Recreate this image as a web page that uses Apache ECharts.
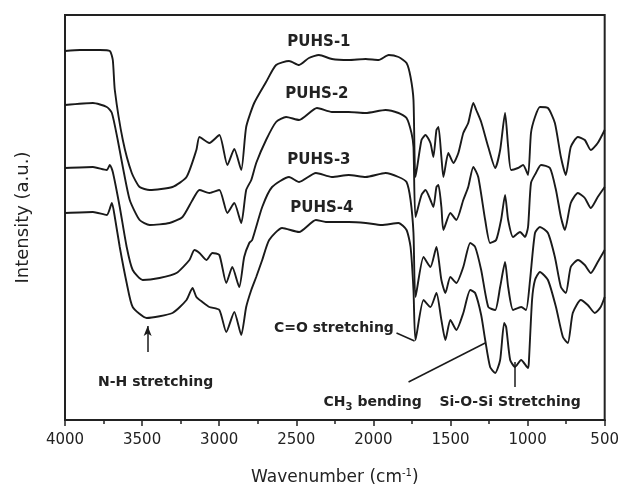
<!DOCTYPE html>
<html>
<head>
<meta charset="utf-8">
<script src="https://cdn.jsdelivr.net/npm/echarts@6/dist/echarts.min.js"></script>
<style>
  html, body { margin: 0; padding: 0; background: #fff; }
  #main { width: 622px; height: 493px; }
</style>
</head>
<body>
<div id="main"></div>
<script>
// FTIR spectra, [wavenumber (cm-1), intensity (a.u.)]
var puhs1 = [[4000,369],[3903,370],[3774,370],[3709,369],[3690,360],[3677,330],[3625,280],[3567,247],[3516,233],[3451,230],[3303,233],[3212,243],[3148,270],[3128,283],[3064,277],[2999,285],[2947,255],[2902,271],[2857,250],[2825,293],[2773,317],[2696,338],[2631,355],[2547,359],[2482,355],[2418,362],[2353,365],[2269,361],[2160,360],[2050,361],[1966,360],[1901,365],[1837,363],[1785,357],[1759,343],[1740,320],[1727,243],[1688,280],[1662,285],[1630,277],[1611,263],[1591,290],[1578,293],[1559,263],[1546,243],[1514,267],[1481,257],[1449,267],[1417,287],[1385,297],[1352,317],[1333,310],[1301,298],[1255,273],[1210,252],[1178,270],[1146,307],[1126,273],[1107,250],[1062,252],[1029,255],[997,245],[978,287],[952,303],[920,313],[868,312],[823,297],[784,263],[752,245],[720,273],[674,283],[629,280],[590,270],[545,277],[500,290]];
var puhs2 = [[4000,315],[3819,317],[3729,313],[3696,307],[3658,280],[3625,253],[3580,220],[3516,200],[3451,195],[3322,197],[3238,203],[3173,220],[3128,230],[3064,227],[2999,230],[2947,207],[2902,217],[2857,197],[2825,230],[2792,240],[2760,257],[2696,280],[2631,298],[2566,303],[2482,300],[2366,312],[2269,308],[2160,308],[2050,307],[1921,310],[1837,307],[1785,302],[1753,287],[1740,273],[1727,203],[1688,225],[1662,230],[1630,220],[1611,213],[1591,233],[1578,235],[1559,213],[1546,190],[1501,207],[1462,200],[1417,220],[1385,233],[1352,253],[1320,243],[1275,200],[1243,177],[1204,180],[1172,200],[1146,225],[1126,200],[1094,183],[1049,188],[1017,183],[997,193],[978,237],[946,247],[913,255],[855,252],[816,230],[784,203],[758,190],[720,217],[674,227],[629,222],[590,212],[545,223],[500,233]];
var puhs3 = [[4000,252],[3819,253],[3729,250],[3709,255],[3690,248],[3645,213],[3600,173],[3561,150],[3496,140],[3387,142],[3277,147],[3193,160],[3161,170],[3128,167],[3083,160],[3044,167],[2999,165],[2954,137],[2915,153],[2870,133],[2838,163],[2805,177],[2786,180],[2721,213],[2657,233],[2547,243],[2482,238],[2373,247],[2269,243],[2160,245],[2050,243],[1921,247],[1837,243],[1785,238],[1759,220],[1740,187],[1727,123],[1675,163],[1630,153],[1591,173],[1559,140],[1533,127],[1501,143],[1462,137],[1417,153],[1372,177],[1340,173],[1301,150],[1255,113],[1210,110],[1178,133],[1146,158],[1126,133],[1094,110],[1042,113],[1010,110],[984,140],[952,187],[920,193],[868,187],[823,163],[784,133],[752,127],[720,153],[674,160],[629,155],[590,147],[545,158],[500,170]];
var puhs4 = [[4000,207],[3819,208],[3729,205],[3696,217],[3677,203],[3645,173],[3600,137],[3561,113],[3470,102],[3303,107],[3212,120],[3173,132],[3148,123],[3109,118],[3064,113],[2999,110],[2954,88],[2902,108],[2857,85],[2825,113],[2792,130],[2760,143],[2721,160],[2676,180],[2592,192],[2482,188],[2373,200],[2308,198],[2160,198],[2050,197],[1947,195],[1837,197],[1785,190],[1759,173],[1740,130],[1727,80],[1675,120],[1630,113],[1591,127],[1559,100],[1533,80],[1501,100],[1462,90],[1417,107],[1372,130],[1340,127],[1301,105],[1275,80],[1243,53],[1210,47],[1178,60],[1152,97],[1139,93],[1113,60],[1081,53],[1042,60],[997,52],[991,60],[971,120],[952,140],[920,148],[868,140],[816,113],[771,83],[739,77],[707,107],[655,120],[610,115],[564,107],[526,113],[500,123]];

var seriesNames = ['PUHS-1', 'PUHS-2', 'PUHS-3', 'PUHS-4'];
var seriesData = [puhs1, puhs2, puhs3, puhs4];

// annotation anchors in data space
var nameAnchors = [[2353,378],[2366,326],[2353,260],[2334,212]];
var notes = [
    {text: 'C=O stretching', at: [2256, 92]},
    {text: 'N-H stretching', at: [3412, 38]},
    {text: 'CH{sub|3} bending', at: [2005, 18]},
    {text: 'Si-O-Si Stretching', at: [1113, 18]}
];
var pointers = [
    [[1850, 87], [1733, 79]],   // C=O
    [[1772, 38], [1275, 77]],   // CH3
    [[1081, 33], [1081, 58]]    // Si-O-Si
];
var nhArrow = [[3464, 68], [3464, 94]];

var ink = '#1a1a1a';
var myChart = echarts.init(document.getElementById('main'));

var series = seriesData.map(function (d, i) {
    return {
        name: seriesNames[i],
        type: 'line',
        data: d,
        showSymbol: false,
        smooth: 0.2,
        lineStyle: {color: ink, width: 1.9},
        z: 3
    };
});
series[0].markLine = {
    silent: true,
    symbol: 'none',
    lineStyle: {color: ink, width: 1.5, type: 'solid'},
    label: {show: false},
    data: pointers.map(function (p) { return [{coord: p[0]}, {coord: p[1]}]; })
        .concat([[{coord: nhArrow[0], symbol: 'none'}, {coord: nhArrow[1], symbol: 'arrow', symbolSize: [6, 10]}]])
};

var option = {
    animation: false,
    grid: {left: 65, right: 15, top: 15, bottom: 73, show: true, borderColor: '#222', borderWidth: 2},
    xAxis: {
        type: 'value',
        inverse: true,
        min: 500,
        max: 4000,
        interval: 500,
        name: 'Wavenumber (cm{sup|-1})',
        nameLocation: 'middle',
        nameGap: 48,
        nameTextStyle: {
            fontFamily: 'DejaVu Sans', fontSize: 17, color: '#222',
            rich: {sup: {fontFamily: 'DejaVu Sans', fontSize: 10, color: '#222', padding: [0, 0, 9, 0]}}
        },
        axisLine: {lineStyle: {color: '#222', width: 2}},
        axisTick: {inside: false, length: 6, lineStyle: {color: '#222', width: 1.5}},
        minorTick: {show: true, splitNumber: 2, length: 4, lineStyle: {color: '#222', width: 1.5}},
        axisLabel: {
            fontFamily: 'DejaVu Sans', fontSize: 15, color: '#222', margin: 13,
            formatter: function (v) { return String(v); }
        },
        splitLine: {show: false}
    },
    yAxis: {
        type: 'value',
        min: 0,
        max: 405,
        name: 'Intensity (a.u.)',
        nameLocation: 'middle',
        nameGap: 33,
        nameTextStyle: {fontFamily: 'DejaVu Sans', fontSize: 18, color: '#222'},
        axisLine: {show: false},
        axisTick: {show: false},
        axisLabel: {show: false},
        splitLine: {show: false}
    },
    series: series
};
myChart.setOption(option);

function textEl(str, at, size) {
    var p = myChart.convertToPixel({gridIndex: 0}, at);
    return {
        type: 'text',
        z: 10,
        style: {
            text: str, x: p[0], y: p[1],
            align: 'center', verticalAlign: 'middle',
            textAlign: 'center', textVerticalAlign: 'middle',
            fontFamily: 'DejaVu Sans', fontSize: size, fontWeight: 'bold', fill: '#222',
            rich: {sub: {fontFamily: 'DejaVu Sans', fontSize: 10, fontWeight: 'bold', fill: '#222', padding: [10, 0, 0, 0]}}
        }
    };
}
var graphics = [];
seriesNames.forEach(function (n, i) { graphics.push(textEl(n, nameAnchors[i], 15)); });
notes.forEach(function (n) { graphics.push(textEl(n.text, n.at, 14)); });
myChart.setOption({graphic: graphics});
</script>
</body>
</html>
